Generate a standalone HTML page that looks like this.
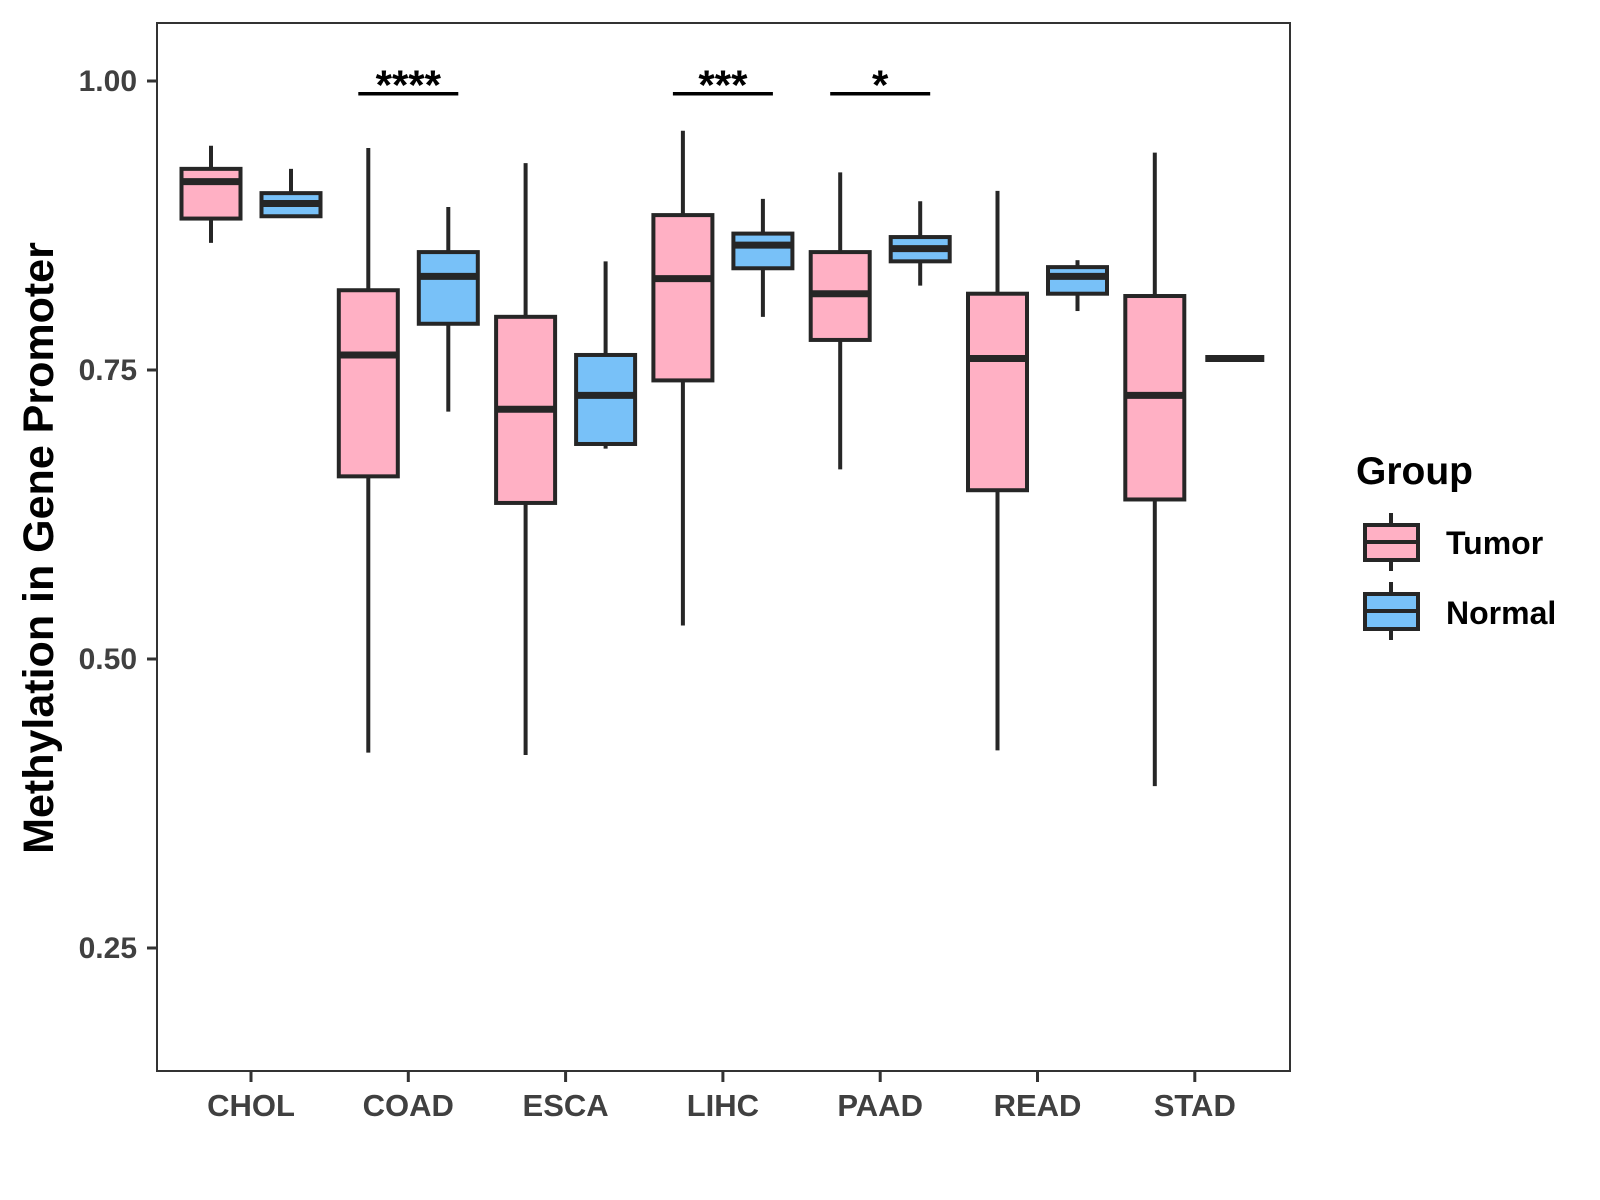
<!DOCTYPE html>
<html><head><meta charset="utf-8"><style>
html,body{margin:0;padding:0;background:#fff;}
svg{display:block;font-family:"Liberation Sans",Arial,sans-serif;font-weight:bold;}
</style></head><body>
<svg id="chart" width="1600" height="1200" viewBox="0 0 1600 1200" xmlns="http://www.w3.org/2000/svg">
<rect x="157" y="23" width="1133" height="1048" fill="#fff" stroke="#333" stroke-width="2"/>
<g id="marks"></g>
<text transform="translate(53,548) rotate(-90)" text-anchor="middle" font-size="43" fill="#000">Methylation in Gene Promoter</text>
<g>
<text x="1356" y="484" font-size="39" fill="#000">Group</text>
<g>
<line x1="1391" y1="513" x2="1391" y2="571" stroke="#262626" stroke-width="4"/>
<rect x="1365" y="525" width="53" height="35" fill="#FFB0C4" stroke="#262626" stroke-width="4"/>
<line x1="1365" y1="542" x2="1418" y2="542" stroke="#262626" stroke-width="4"/>
<text x="1446" y="554" font-size="32" fill="#000">Tumor</text>
</g>
<g>
<line x1="1391" y1="582" x2="1391" y2="640" stroke="#262626" stroke-width="4"/>
<rect x="1365" y="594" width="53" height="35" fill="#78C1F8" stroke="#262626" stroke-width="4"/>
<line x1="1365" y1="611" x2="1418" y2="611" stroke="#262626" stroke-width="4"/>
<text x="1446" y="624" font-size="32" fill="#000">Normal</text>
</g>
</g>
</svg>
<script>
const categories = ["CHOL","COAD","ESCA","LIHC","PAAD","READ","STAD"];
// [min, q1, median, q3, max]
const tumorStats = [
  [0.860,0.881,0.913,0.924,0.944],
  [0.419,0.658,0.763,0.819,0.942],
  [0.417,0.635,0.716,0.796,0.929],
  [0.529,0.741,0.829,0.884,0.957],
  [0.664,0.776,0.816,0.852,0.921],
  [0.421,0.646,0.760,0.816,0.905],
  [0.390,0.638,0.728,0.814,0.938]
];
const normalStats = [
  [0.883,0.883,0.894,0.903,0.924],
  [0.714,0.790,0.831,0.852,0.891],
  [0.682,0.686,0.728,0.763,0.844],
  [0.796,0.838,0.858,0.868,0.898],
  [0.823,0.844,0.855,0.865,0.896],
  [0.801,0.816,0.831,0.839,0.845],
  [0.760,0.760,0.760,0.760,0.760]
];
const yTicks = [0.25,0.50,0.75,1.00];
const yTickLabels = ["0.25","0.50","0.75","1.00"];
const sigCategories = ["COAD","LIHC","PAAD"];
const sigLabels = ["****","***","*"];
const sigLevel = 0.989;

const NS="http://www.w3.org/2000/svg";
const svg=document.getElementById('chart');
const g=document.getElementById('marks');
const yScale=v=>81+(1-v)*1156;
const xScale=i=>251+157.3*i;
const boxW=59, off=40;
function mk(tag,attrs,parent){const e=document.createElementNS(NS,tag);for(const k in attrs)e.setAttribute(k,attrs[k]);(parent||g).appendChild(e);return e;}

yTicks.forEach((t,i)=>{
  const y=yScale(t);
  const tk=mk('line',{x1:147,x2:157,y1:y,y2:y,stroke:'#333','stroke-width':3},svg);
  
  
  const lb=mk('text',{x:137,y:y+10,'text-anchor':'end','font-size':30,fill:'#404040'},svg);
  lb.textContent=yTickLabels[i];
  
  
});
categories.forEach((c,i)=>{
  const x=xScale(i);
  const tk=mk('line',{x1:x,x2:x,y1:1071,y2:1082,stroke:'#333','stroke-width':3},svg);
  
  
  const lb=mk('text',{x:x,y:1116,'text-anchor':'middle','font-size':31,fill:'#404040'},svg);
  lb.textContent=c;
  
  
});
function drawBox(s,cx,fill,name){
  const grp=mk('g',{});
  
  
  mk('line',{x1:cx,x2:cx,y1:yScale(s[0]),y2:yScale(s[4]),stroke:'#262626','stroke-width':4},grp);
  const top=yScale(s[3]), bot=yScale(s[1]);
  if(bot-top>0.5) mk('rect',{x:cx-boxW/2,y:top,width:boxW,height:bot-top,fill:fill,stroke:'#262626','stroke-width':4},grp);
  mk('line',{x1:cx-boxW/2,x2:cx+boxW/2,y1:yScale(s[2]),y2:yScale(s[2]),stroke:'#262626','stroke-width':7},grp);
}
categories.forEach((c,i)=>{
  drawBox(tumorStats[i],xScale(i)-off,'#FFB0C4','box-tumor-'+c.toLowerCase());
  drawBox(normalStats[i],xScale(i)+off,'#78C1F8','box-normal-'+c.toLowerCase());
});
sigCategories.forEach((c,k)=>{
  const i=categories.indexOf(c);
  const y=yScale(sigLevel);
  const ln=mk('line',{x1:xScale(i)-50,x2:xScale(i)+50,y1:y,y2:y,stroke:'#000','stroke-width':3.5});
  
  
  const t=mk('text',{x:xScale(i),y:y+6,'text-anchor':'middle','font-size':42,fill:'#000'});
  t.textContent=sigLabels[k];
  
  
});
</script>
</body></html>
